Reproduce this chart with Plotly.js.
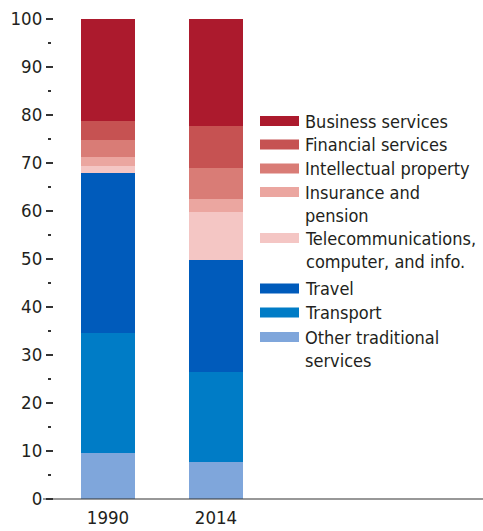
<!DOCTYPE html>
<html>
<head>
<meta charset="utf-8">
<script src="https://cdn.plot.ly/plotly-3.0.1.min.js"></script>
<style>html,body{margin:0;padding:0;background:#fff;}#chart{width:483px;height:531px;}</style>
</head>
<body>
<div id="chart"></div>
<script>
// ---- data (bottom to top of the stack) ----
const years = ['1990', '2014'];
const seriesNames = ['Other traditional services', 'Transport', 'Travel',
  'Telecommunications, computer, and info.', 'Insurance and pension',
  'Intellectual property', 'Financial services', 'Business services'];
const legendLabels = ['Other traditional<br>services', 'Transport', 'Travel',
  'Telecommunications,<br>computer, and info.', 'Insurance and<br>pension',
  'Intellectual property', 'Financial services', 'Business services'];
const otherTraditional = [9.6, 7.7];
const transport = [25.0, 18.8];
const travel = [33.3, 23.3];
const telecom = [1.5, 10.0];
const insurance = [1.9, 2.7];
const intellectual = [3.5, 6.5];
const financial = [4.0, 8.7];
const business = [21.2, 22.3];
const yTicks = [0, 10, 20, 30, 40, 50, 60, 70, 80, 90, 100];
const yMinorTicks = [5, 15, 25, 35, 45, 55, 65, 75, 85, 95];

const values = [otherTraditional, transport, travel, telecom, insurance, intellectual, financial, business];
const colors = ['#7FA6DB', '#007CC6', '#005BBB', '#F4C6C4', '#EBA6A0', '#D97C76', '#C65252', '#AC1A2D'];

const W = 483, H = 531;
const plotL = 53, plotR = 483, plotT = 19, plotB = 499;
const FONT = '"DejaVu Sans Condensed", "Liberation Sans Narrow", Arial, sans-serif';
const TXT = '#231F20';

const traces = values.map((v, i) => ({
  type: 'bar', x: [0, 1], y: v, name: seriesNames[i],
  marker: {color: colors[i], line: {width: 0}},
  width: 0.5, showlegend: false, hoverinfo: 'skip'
}));
// invisible trace to draw minor ticks on an overlay axis
traces.push({type: 'scatter', x: [0], y: [0], yaxis: 'y2', mode: 'markers',
  marker: {opacity: 0}, showlegend: false, hoverinfo: 'skip'});

// paper coords: margin.l = 0, margin.r = 0 -> x paper spans the full width
const px = p => p / W;
const py = p => (plotB - p) / (plotB - plotT);

// custom legend (top item first)
const legendOrder = [7, 6, 5, 4, 3, 2, 1, 0];
const rowCenters = [121, 144.5, 168.5, 192, 238, 288.5, 312.5, 337];
const lineH = 23.6;
const twoLine = [false, false, false, true, true, false, false, true];
const shapes = [];
const annotations = [];
legendOrder.forEach((si, k) => {
  const c = rowCenters[k];
  shapes.push({type: 'rect', xref: 'paper', yref: 'paper',
    x0: px(260), x1: px(299), y0: py(c + 5), y1: py(c - 5),
    fillcolor: colors[si], line: {width: 0}});
  const center = twoLine[k] ? c + lineH / 2 : c;
  annotations.push({xref: 'paper', yref: 'paper', x: px(303), y: py(center),
    xanchor: 'left', yanchor: 'middle', align: 'left', showarrow: false,
    text: legendLabels[si], font: {family: FONT, size: 18, color: TXT}});
});
// baseline
shapes.push({type: 'line', xref: 'paper', yref: 'paper', x0: px(43), x1: 1, y0: 0, y1: 0,
  line: {color: '#333', width: 1.2}});

const layout = {
  width: W, height: H,
  margin: {l: 0, r: 0, t: plotT, b: H - plotB, pad: 0},
  paper_bgcolor: '#fff', plot_bgcolor: '#fff',
  barmode: 'stack', bargap: 0,
  font: {family: FONT, size: 18, color: TXT},
  xaxis: {domain: [plotL / W, 1], range: [-(108 - plotL) / 108, (plotR - 108) / 108],
    tickvals: [0, 1], ticktext: years, ticks: '', showgrid: false, zeroline: false,
    showline: false, ticklabelstandoff: 5, tickfont: {family: FONT, size: 18.5, color: TXT}},
  yaxis: {range: [0, 100], anchor: 'free', position: plotL / W, tickvals: yTicks,
    ticks: 'outside', ticklen: 7, tickwidth: 1.2, tickcolor: '#333', showgrid: false,
    zeroline: false, showline: false, ticklabelstandoff: 0,
    tickfont: {family: FONT, size: 18.5, color: TXT}},
  yaxis2: {range: [0, 100], overlaying: 'y', anchor: 'free', position: 50.5 / W,
    tickvals: yMinorTicks, ticks: 'outside', ticklen: 2.5, tickwidth: 1.2, tickcolor: '#333',
    showticklabels: false, showgrid: false, zeroline: false, showline: false},
  shapes: shapes, annotations: annotations
};

Plotly.newPlot('chart', traces, layout, {displayModeBar: false, staticPlot: true});
</script>
</body>
</html>
